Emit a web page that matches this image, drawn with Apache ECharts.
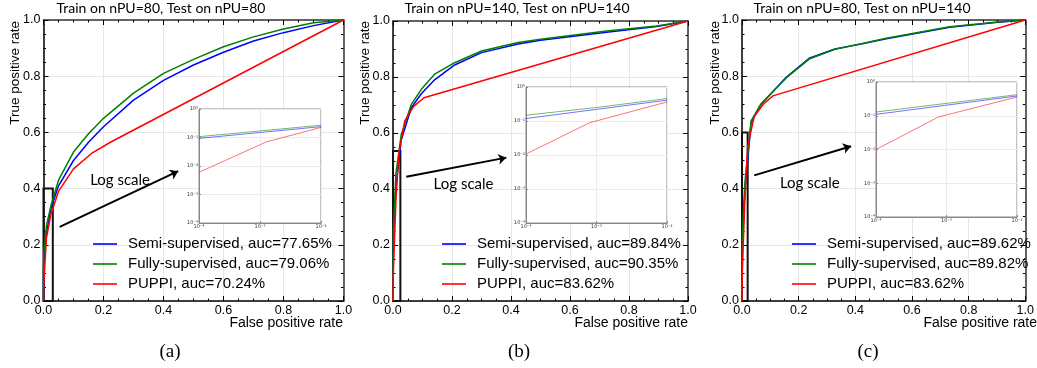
<!DOCTYPE html>
<html>
<head>
<meta charset="utf-8">
<script src="https://cdn.jsdelivr.net/npm/echarts@6/dist/echarts.min.js"></script>
<style>
  html, body { margin: 0; padding: 0; background: #fff; }
  #chart { width: 1037px; height: 368px; }
</style>
</head>
<body>
<div id="chart"></div>
<script>
// ROC curves, [false positive rate, true positive rate]
var semiA  = [[0,0],[0.0001,0.093],[0.001,0.15],[0.01,0.24],[0.025,0.33],[0.05,0.41],[0.1,0.5],[0.15,0.565],[0.2,0.62],[0.3,0.715],[0.4,0.785],[0.5,0.84],[0.6,0.885],[0.7,0.925],[0.8,0.955],[0.9,0.98],[1,1]];
var fullyA = [[0,0],[0.0001,0.107],[0.001,0.17],[0.01,0.27],[0.025,0.34],[0.05,0.43],[0.1,0.53],[0.15,0.595],[0.2,0.65],[0.3,0.74],[0.4,0.81],[0.5,0.86],[0.6,0.905],[0.7,0.94],[0.8,0.968],[0.9,0.99],[1,1]];
var puppiA = [[0,0],[0.0001,0.006],[0.00127,0.07],[0.01,0.226],[0.025,0.31],[0.05,0.39],[0.1,0.47],[0.16,0.525],[0.223,0.565],[1,1]];

var semiB  = [[0,0],[0.0001,0.118],[0.001,0.22],[0.01,0.41],[0.028,0.575],[0.062,0.69],[0.096,0.74],[0.141,0.79],[0.209,0.843],[0.3,0.887],[0.424,0.918],[0.5,0.931],[0.724,0.96],[0.894,0.98],[1,1]];
var fullyB = [[0,0],[0.0001,0.148],[0.001,0.25],[0.01,0.457],[0.028,0.595],[0.062,0.702],[0.096,0.756],[0.141,0.81],[0.209,0.851],[0.3,0.893],[0.424,0.923],[0.5,0.935],[0.724,0.964],[0.894,0.982],[1,1]];
var puppiB = [[0,0],[0.0001,0.0107],[0.0008,0.089],[0.01,0.363],[0.02,0.53],[0.04,0.643],[0.07,0.695],[0.105,0.726],[1,1]];

var semiC  = [[0,0],[0.0001,0.11],[0.001,0.206],[0.01,0.385],[0.032,0.635],[0.066,0.698],[0.106,0.742],[0.157,0.797],[0.237,0.864],[0.328,0.897],[0.424,0.915],[0.505,0.932],[0.733,0.974],[0.903,0.992],[1,1]];
var fullyC = [[0,0],[0.0001,0.129],[0.001,0.233],[0.01,0.42],[0.032,0.641],[0.066,0.7],[0.106,0.742],[0.157,0.795],[0.237,0.861],[0.328,0.896],[0.424,0.916],[0.505,0.934],[0.733,0.976],[0.903,0.993],[1,1]];
var puppiC = [[0,0],[0.0001,0.01],[0.00077,0.092],[0.01,0.36],[0.02,0.55],[0.043,0.656],[0.075,0.7],[0.109,0.73],[1,1]];

var namesA = ['Semi-supervised, auc=77.65%', 'Fully-supervised, auc=79.06%', 'PUPPI, auc=70.24%'];
var namesB = ['Semi-supervised, auc=89.84%', 'Fully-supervised, auc=90.35%', 'PUPPI, auc=83.62%'];
var namesC = ['Semi-supervised, auc=89.62%', 'Fully-supervised, auc=89.82%', 'PUPPI, auc=83.62%'];
var titles = ['Train on nPU=80, Test on nPU=80', 'Train on nPU=140, Test on nPU=140', 'Train on nPU=80, Test on nPU=140'];
var captions = ['(a)', '(b)', '(c)'];

// zoom box [fpr max, tpr max], arrow [from, to], "Log scale" anchor
var zoomBoxes = [[0.031, 0.4], [0.025, 0.536], [0.02, 0.6]];
var arrows = [[[0.054, 0.264], [0.449, 0.462]], [[0.045, 0.444], [0.384, 0.512]], [[0.043, 0.447], [0.385, 0.551]]];
var logLabels = [[0.154, 0.431], [0.136, 0.418], [0.132, 0.42]];

var panels = [
  {data: [semiA, fullyA, puppiA], names: namesA,
   grid: {left: 43.5, top: 20, width: 300, height: 281}, inset: {left: 199, top: 109, width: 122, height: 114},
   legendLeft: 88, titleX: 161, capX: 170, yLabX: 15, xLabRight: 343},
  {data: [semiB, fullyB, puppiB], names: namesB,
   grid: {left: 393, top: 21, width: 295, height: 280}, inset: {left: 526, top: 87, width: 141, height: 136},
   legendLeft: 437, titleX: 517, capX: 519, yLabX: 365, xLabRight: 688},
  {data: [semiC, fullyC, puppiC], names: namesC,
   grid: {left: 742, top: 20, width: 293, height: 281}, inset: {left: 876, top: 82, width: 141, height: 135},
   legendLeft: 787, titleX: 862, capX: 868, yLabX: 715, xLabRight: 1037}
];

var colors = ['#0000ff', '#008000', '#ff0000'];
var insetColors = ['rgba(0,0,255,0.55)', 'rgba(0,128,0,0.55)', 'rgba(255,0,0,0.55)'];

var sup = {'0': '\u2070', '1': '\u00b9', '2': '\u00b2', '3': '\u00b3', '4': '\u2074', '-': '\u207b'};
function powLabel(v) {
  var e = String(Math.round(Math.log10(v)));
  return '10' + e.split('').map(function (c) { return sup[c]; }).join('');
}

var grids = [], xAxes = [], yAxes = [], series = [], legends = [], graphics = [];

function mainAxis(gridIndex, pos, labels) {
  return {
    type: 'value', gridIndex: gridIndex, position: pos, min: 0, max: 1, interval: 0.2,
    axisLine: {show: true, onZero: false, lineStyle: {color: labels ? '#000' : '#333', width: 1.5}},
    axisTick: {show: true, inside: true, length: 5, lineStyle: {color: '#000'}},
    minorTick: {show: true, splitNumber: 4, length: 2.5, lineStyle: {color: '#000'}},
    splitLine: {show: labels, lineStyle: {color: '#e6e6e6'}},
    axisLabel: {show: labels, fontSize: 12.5, fontFamily: 'Liberation Sans', color: '#000', margin: 3,
      formatter: function (v) { return v.toFixed(1); }}
  };
}

function insetAxis(gridIndex, min, max) {
  return {
    type: 'log', logBase: 10, gridIndex: gridIndex, min: min, max: max, interval: 1, z: 6,
    axisLine: {show: true, onZero: false, lineStyle: {color: '#888', width: 1}},
    axisTick: {show: true, inside: true, length: 2, lineStyle: {color: '#888'}},
    splitLine: {show: true, lineStyle: {color: '#ececec'}},
    axisLabel: {fontSize: 5, fontFamily: 'DejaVu Sans', color: '#333', margin: 1, formatter: powLabel}
  };
}

panels.forEach(function (p, i) {
  var g = grids.length;
  grids.push(Object.assign({}, p.grid));
  grids.push(Object.assign({show: true, backgroundColor: '#fff', borderColor: '#888', borderWidth: 1, z: 5}, p.inset));

  var xMain = xAxes.length;
  xAxes.push(mainAxis(g, 'bottom', true));
  xAxes.push(mainAxis(g, 'top', false));
  var yMain = yAxes.length;
  yAxes.push(mainAxis(g, 'left', true));
  yAxes.push(mainAxis(g, 'right', false));
  var xIn = xAxes.length;
  xAxes.push(insetAxis(g + 1, 0.0001, 0.01));
  var yIn = yAxes.length;
  yAxes.push(insetAxis(g + 1, 0.0001, 1));

  p.data.forEach(function (d, k) {
    var s = {
      type: 'line', name: p.names[k], xAxisIndex: xMain, yAxisIndex: yMain, data: d,
      symbol: 'none', smooth: false, z: 3 + k,
      lineStyle: {color: colors[k], width: 1.5}, itemStyle: {color: colors[k]}
    };
    if (k === 2) {
      s.markArea = {silent: true, itemStyle: {color: 'rgba(0,0,0,0)', borderColor: '#111', borderWidth: 2},
        data: [[{coord: [0, 0]}, {coord: zoomBoxes[i]}]]};
      s.markLine = {silent: true, symbol: ['none', 'arrow'], symbolSize: 8, label: {show: false},
        lineStyle: {color: '#000', width: 2, type: 'solid'},
        data: [[{coord: arrows[i][0]}, {coord: arrows[i][1]}]]};
      s.markPoint = {silent: true, symbol: 'circle', symbolSize: 1, itemStyle: {color: 'rgba(0,0,0,0)'},
        label: {show: true, position: 'right', distance: 0, formatter: 'Log scale',
          fontFamily: 'Lato', fontSize: 15, color: '#000'},
        data: [{coord: logLabels[i]}]};
    }
    series.push(s);
    series.push({
      type: 'line', name: 'log ' + i + '-' + k, xAxisIndex: xIn, yAxisIndex: yIn, z: 7,
      data: d.filter(function (pt) { return pt[0] >= 0.0001 && pt[0] <= 0.01; }),
      symbol: 'none', lineStyle: {color: insetColors[k], width: 1}
    });
  });

  legends.push({
    data: p.names, orient: 'vertical', left: p.legendLeft, top: 231,
    icon: 'rect', itemWidth: 24, itemHeight: 1.6, itemGap: 4, selectedMode: false,
    textStyle: {fontSize: 15, lineHeight: 16, fontFamily: 'Liberation Sans', color: '#000', padding: [0, 0, 0, 6]}
  });

  graphics.push({type: 'text', x: p.titleX, y: 8, style: {text: titles[i], fontFamily: 'Lato', fontSize: 14,
    fill: '#000', align: 'center', verticalAlign: 'middle'}});
  graphics.push({type: 'text', x: p.yLabX, y: 21, rotation: Math.PI / 2, style: {text: 'True positive rate',
    fontFamily: 'Liberation Sans', fontSize: 13.5, fill: '#000', align: 'right', verticalAlign: 'middle'}});
  graphics.push({type: 'text', x: p.xLabRight, y: 323, style: {text: 'False positive rate',
    fontFamily: 'Liberation Sans', fontSize: 14, fill: '#000', align: 'right', verticalAlign: 'middle'}});
  graphics.push({type: 'text', x: p.capX, y: 352, style: {text: captions[i],
    fontFamily: 'Liberation Serif', fontSize: 19, fill: '#000', align: 'center', verticalAlign: 'middle'}});
});

var myChart = echarts.init(document.getElementById('chart'));
myChart.setOption({
  animation: false,
  backgroundColor: '#fff',
  grid: grids,
  xAxis: xAxes,
  yAxis: yAxes,
  legend: legends,
  series: series,
  graphic: graphics
});
</script>
</body>
</html>
